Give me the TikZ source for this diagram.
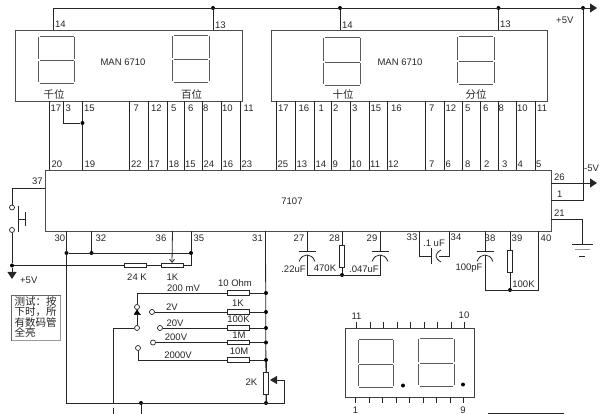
\documentclass[tikz,border=0pt]{standalone}
\usepackage{fontspec}
\setmainfont{Liberation Sans}
\newfontfamily\cjk{Noto Sans CJK SC}
\usetikzlibrary{arrows.meta,calc}
\tikzset{
  wire/.style={line width=0.8pt,black!85},
  box/.style={draw=black!70,line width=1pt,rectangle,inner sep=0pt,anchor=north west},
  seg/.style={line width=0.8pt,black!65},
  lbl/.style={inner sep=0pt,font=\fontsize{9.5}{10}\selectfont,text=black!85},
  pinlbl/.style={lbl,anchor=west},
  cjklbl/.style={inner sep=0pt,font=\cjk\fontsize{10.5}{11}\selectfont,text=black!85},
  jn/.style={circle,fill=black,inner sep=0pt,minimum size=4pt},
  opn/.style={circle,draw=black!85,fill=white,line width=0.7pt,inner sep=0pt,minimum size=5pt},
  resh/.style={draw=black!85,fill=white,line width=0.8pt,rectangle,inner sep=0pt,minimum width=22pt,minimum height=4.5pt},
  resv/.style={draw=black!85,fill=white,line width=0.8pt,rectangle,inner sep=0pt,minimum width=5.5pt,minimum height=22pt},
  bigtip/.style={-{Triangle[length=7pt,width=9pt]}},
}
% seven-segment digit: left, right, top, mid, bottom
\newcommand{\sevenseg}[5]{%
  \draw[seg] (#1+1,#3) -- (#2-1,#3) (#1+1,#4) -- (#2-1,#4) (#1+1,#5) -- (#2-1,#5)
    (#1,#3+1) -- (#1,#4-1) (#1,#4+1) -- (#1,#5-1)
    (#2,#3+1) -- (#2,#4-1) (#2,#4+1) -- (#2,#5-1);}
% vertical capacitor: x, plate y
\newcommand{\vcapac}[2]{%
  \draw[wire,fill=none] (#1-8.5,#2) -- (#1+8.5,#2);
  \draw[wire] (#1-8,#2+10) .. controls (#1-6,#2+5) and (#1-3,#2+3.5) .. (#1,#2+3.5)
     .. controls (#1+3,#2+3.5) and (#1+6,#2+5) .. (#1+8,#2+10);}
\begin{document}
\begin{tikzpicture}[x=1pt,y=-1pt]
\useasboundingbox (0,0) rectangle (603,414);
% main blocks
\node[box,minimum width=227pt,minimum height=71pt] (dispA) at (15,30) {};
\node[box,minimum width=276pt,minimum height=71pt] (dispB) at (271,30) {};
\node[box,minimum width=506pt,minimum height=60.5pt] (chip) at (45,170.5) {};
\node[lbl] (tA) at (123,62) {MAN 6710};
\node[lbl] (tB) at (400,62) {MAN 6710};
\node[lbl] (tC) at (292,201) {7107};
\sevenseg{38.5}{74.5}{36}{60.5}{83}
\sevenseg{172.5}{209}{35.5}{59.5}{82.5}
\sevenseg{323.5}{360.5}{37.5}{62}{85}
\sevenseg{457.5}{494}{36.5}{61}{84}
\node[cjklbl] (qA) at (54,94) {千位};
\node[cjklbl] (qB) at (191.5,94) {百位};
\node[cjklbl] (qC) at (343,94) {十位};
\node[cjklbl] (qD) at (476,94) {分位};
% pins between displays and chip: x / upper label / lower label / dx upper / dx lower
\foreach \x/\u/\l/\du/\dl in {
  49.5/17/20/1/2, 82.5/15/19/1.5/2, 129.5/7/22/4/1.5, 148/12/17/3/1, 167/5/18/4/1.5,
  184/6/15/4/1, 202.5/8/24/0.5/1, 221/10/16/1/1.5, 240/11/23/3.5/1.5,
  276.5/17/25/1.5/1, 295.5/16/13/3/1, 314.5/1/14/4/1, 331/2/9/2/1.5, 350/3/10/2/1,
  369/15/11/1.5/1, 387/16/12/4/1, 425/7/7/4/4, 444/12/6/1.5/1.5, 462/5/8/3/3,
  480/6/2/3/4, 498/8/3/0.5/4, 516/10/4/1/1.5, 535/11/5/2/1}{
  \draw[wire] (\x,101) -- (\x,170.5);
  \node[pinlbl] at (\x+\du,108) {\u};
  \node[pinlbl] at (\x+\dl,164.5) {\l};
}
% pin 3 of first display
\node[jn] (j3) at (82.5,123) {};
\coordinate (p3) at (63.5,101);
\draw[wire] (p3) -- (63.5,123) -- (j3);
\node[pinlbl] at (65.5,108) {3};
% +5V bus
\coordinate (busS) at (53,30);
\coordinate (busE) at (597,8);
\node[jn] (b1) at (213,8) {};
\node[jn] (b2) at (340,8) {};
\node[jn] (b3) at (498.5,8) {};
\node[jn] (b4) at (583,8) {};
\draw[wire,bigtip] (busS) -- (53,8) -- (busE);
\draw[wire] (b1) -- (213,30);
\draw[wire] (b2) -- (340,30);
\draw[wire] (b3) -- (498.5,30);
\node[pinlbl] at (55,24) {14};
\node[pinlbl] at (215,25) {13};
\node[pinlbl] at (342,25) {14};
\node[pinlbl] at (500,24) {13};
\node[lbl,anchor=west] at (556,20) {+5V};
% right side of chip
\coordinate (c26) at (551,183);
\coordinate (e26) at (597,183);
\coordinate (c1) at (551,200);
\coordinate (c21) at (551,219);
\draw[wire,bigtip] (c26) -- (e26);
\draw[wire] (c1) -- (583,200) -- (b4);
\draw[wire] (c21) -- (582,219) -- (582,244);
\draw[wire] (572,244) -- (593,244);
\draw[line width=0.6pt,black!40] (575,249.5) -- (590,249.5);
\draw[wire] (579,256.5) -- (585,256.5);
\node[pinlbl] at (554,177) {26};
\node[pinlbl] at (557,194) {1};
\node[pinlbl] at (554,213) {21};
\node[lbl,anchor=west] at (584,168) {-5V};
% push button on pin 37
\node[opn] (sw1) at (12,207.5) {};
\node[opn] (sw2) at (12,230) {};
\node[jn] (j5) at (12,265.5) {};
\coordinate (c37) at (45,188.5);
\coordinate (a5) at (12,279);
\draw[wire] (c37) -- (12,188.5) -- (sw1);
\draw[wire] (sw2) -- (j5);
\draw[wire,bigtip] (j5) -- (a5);
\draw[wire] (18.5,206) -- (18.5,232) (18.5,219) -- (25.5,219) (25.5,212) -- (25.5,226);
\node[pinlbl] at (32,181.5) {37};
\node[lbl,anchor=west] at (20,280) {+5V};
% bottom-left pins
\node[jn] (j30) at (66.5,253) {};
\node[jn] (j32) at (91.5,253) {};
\node[jn] (j35) at (191,253) {};
\node[jn] (jb1) at (141,403) {};
\node[jn] (jb2) at (266,403) {};
\draw[wire] (66.5,231) -- (66.5,403) -- (284,403) -- (284,380);
\draw[wire] (91.5,231) -- (j32);
\draw[wire] (191,231) -- (j35);
\draw[wire] (j30) -- (j35);
\node[resh] (r24) at (135,265.5) {};
\node[resh] (r1k) at (172,265.5) {};
\draw[wire] (j5) -- (r24) -- (r1k) -- (191,265.5) -- (j35);
\draw[wire,-{Straight Barb[length=3pt,width=5pt]}] (172.5,231) -- (r1k.north);
\node[lbl] at (137,273.5+4) {24 K};
\node[lbl] at (172.5,273.5+3.5) {1K};
\node[lbl] at (60,238.5) {30};
\node[lbl] at (101,238.5) {32};
\node[lbl] at (161,238.5) {36};
\node[lbl] at (199,238.5) {35};
\node[lbl] at (257.5,238.5) {31};
% range resistors
\draw[wire] (265.5,231) -- (jb2);
\node[jn] (ja) at (266,293) {};
\node[jn] (jc) at (266,312) {};
\node[jn] (jd) at (266,328) {};
\node[jn] (je) at (266,342.5) {};
\node[jn] (jf) at (266,360) {};
\node[opn] (s1) at (137,307) {};
\node[opn] (s2) at (152,312) {};
\node[opn] (s3) at (137,328) {};
\node[opn] (s4) at (160,328) {};
\node[opn] (s5) at (153,342.5) {};
\node[opn] (s6) at (138,348) {};
\node[resh] (ra) at (238,293) {};
\node[resh] (rb) at (238,312) {};
\node[resh] (rc) at (238,328) {};
\node[resh] (rd) at (238.5,342.5) {};
\node[resh] (re) at (238,360) {};
\draw[wire] (ja) -- (ra) -- (137,293) -- (s1);
\draw[wire] (jc) -- (rb) -- (s2);
\draw[wire] (jd) -- (rc) -- (s4);
\draw[wire] (je) -- (rd) -- (s5);
\draw[wire] (jf) -- (re) -- (138,360) -- (s6);
\draw[wire] (s1) -- (s3);
\fill[black] (134,314) -- (140,314) -- (137,309.5) -- cycle;
\draw[wire] (133.5,314) -- (140.5,314);
\draw[wire] (s3) -- (113,328) -- (113,404);
\coordinate (bot1) at (113,408);
\coordinate (bot2) at (113,414);
\draw[wire] (bot1) -- (bot2);
\coordinate (bot3) at (141,414);
\draw[wire] (jb1) -- (bot3);
\node[lbl] at (183.5,288.5) {200 mV};
\node[lbl] at (172,307.5) {2V};
\node[lbl] at (175,323.5) {20V};
\node[lbl] at (176,337.5) {200V};
\node[lbl] at (178,355) {2000V};
\node[lbl] at (235,283) {10 Ohm};
\node[lbl] at (238,303) {1K};
\node[lbl] at (238.5,319) {100K};
\node[lbl] at (239,335) {1M};
\node[lbl] at (239,351) {10M};
% 2K trimmer
\node[resv] (r2k) at (266,383) {};
\draw[wire] (jf) -- (r2k) -- (jb2);
\coordinate (tw) at (270,380);
\draw[wire,-{Triangle[length=7pt,width=8pt]}] (284,380) -- (tw);
\node[lbl] at (251.5,382) {2K};
% note box
\node[draw=black!60,line width=1pt,fill=white,rectangle,anchor=north west,inner sep=0pt,minimum width=49pt,minimum height=45pt] (note) at (11,295) {};
\draw[black!40,line width=1pt] (60.5,296) -- (60.5,340.5) -- (12,340.5);
\node[cjklbl,anchor=north west,font=\cjk\fontsize{10.5}{10.5}\selectfont,align=left] (notet) at (14.5,296) {测试：按\\下时，所\\有数码管\\全亮};
% capacitors and resistors under chip
\node[jn] (jr) at (342,275) {};
\node[jn] (jg) at (510,290) {};
\coordinate (c27) at (307,231);
\coordinate (c28) at (342,231);
\coordinate (c29) at (380,231);
\coordinate (c33) at (419,231);
\coordinate (c34) at (449,231);
\coordinate (c38) at (485,231);
\coordinate (c39) at (510,231);
\coordinate (c40) at (538,231);
\node[resv] (r470) at (342,256) {};
\node[resv] (r100) at (510,261) {};
\draw[wire] (c27) -- (307,251.5) (307,255) -- (307,275) -- (380,275) -- (380,255) (380,251.5) -- (c29);
\vcapac{307}{251.5}
\vcapac{380}{251.5}
\draw[wire] (c28) -- (r470) -- (jr);
\draw[wire] (c33) -- (419,256) -- (431.5,256) (431.5,248) -- (431.5,264);
\draw[wire] (c34) -- (449,256) -- (439,256);
\draw[wire] (441,250) .. controls (437.5,252) and (436,254) .. (436,256) .. controls (436,258) and (437.5,260) .. (441,262);
\draw[wire] (c38) -- (485,251.5) (485,255) -- (485,290) -- (538,290) -- (c40);
\vcapac{485}{251.5}
\draw[wire] (c39) -- (r100) -- (jg);
\node[lbl] at (299,238.5) {27};
\node[lbl] at (334.5,238.5) {28};
\node[lbl] at (372,238.5) {29};
\node[lbl] at (412,237.5) {33};
\node[lbl] at (456,237.5) {34};
\node[lbl] at (490,238) {38};
\node[lbl] at (517,238) {39};
\node[lbl] at (546,238) {40};
\node[lbl] at (293.5,269) {.22uF};
\node[lbl] at (325,268) {470K};
\node[lbl] at (364,269) {.047uF};
\node[lbl] at (434,243) {.1 uF};
\node[lbl] at (469,268) {100pF};
\node[lbl] at (523.5,284) {100K};
% bottom display
\node[box,minimum width=129pt,minimum height=69pt,draw=black!75] (led) at (345,328) {};
\foreach \x in {356.5,370,383.5,397,410.5,424,437.5,451,464}{ \draw[wire] (\x,322) -- (\x,328); }
\foreach \x in {355.5,369,382.5,396,409.5,423,436.5,450,463}{ \draw[wire] (\x,397) -- (\x,403); }
\sevenseg{358}{393.5}{339.5}{364}{387}
\sevenseg{418.5}{454}{338.5}{363}{386}
\node[jn] (d1) at (403,385.5) {};
\node[jn] (d2) at (463,384.5) {};
\node[lbl] at (356.5,316) {11};
\node[lbl] at (464,315.5) {10};
\node[lbl] at (355.5,410) {1};
\node[lbl] at (463,410) {9};
\coordinate (ba) at (488,413);
\coordinate (bb) at (564,413);
\draw[wire] (ba) -- (bb);
\end{tikzpicture}
\end{document}
